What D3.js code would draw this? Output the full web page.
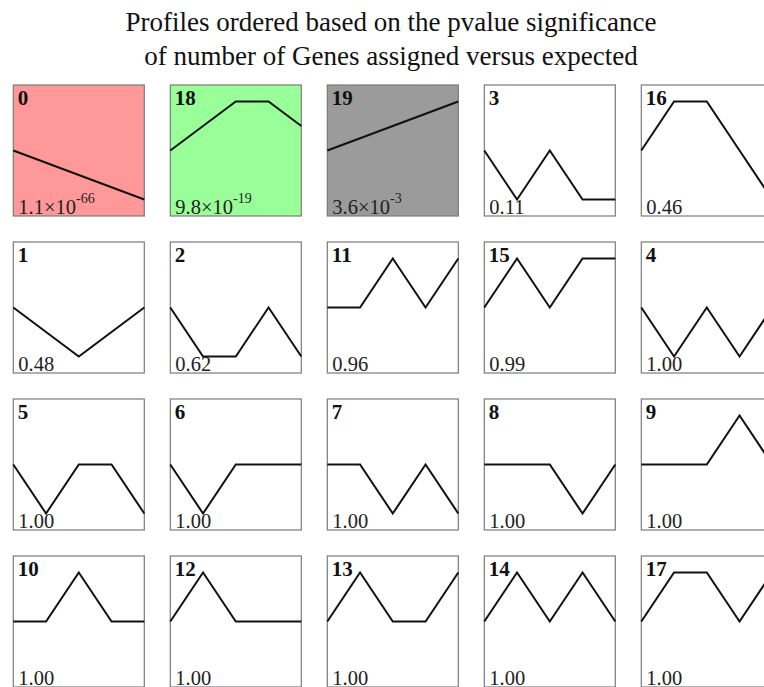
<!DOCTYPE html>
<html>
<head>
<meta charset="utf-8">
<script src="https://cdn.jsdelivr.net/npm/d3@7"></script>
<style>
  body { margin: 0; background: #fff; }
  svg { display: block; font-family: "Liberation Serif", "Times New Roman", serif; }
</style>
</head>
<body>
<svg id="chart"></svg>
<script>
// profile ids, in order of significance
const profileIds = [0, 18, 19, 3, 16, 1, 2, 11, 15, 4, 5, 6, 7, 8, 9, 10, 12, 13, 14, 17];

// model profile for each id (5 time points)
const timePoints = [0, 1, 2, 3, 4];
const profileValues = {
  0: [0, -1, -2, -3, -4],
  18: [0, 1, 2, 2, 1],
  19: [0, 1, 2, 3, 4],
  3: [0, -1, 0, -1, -1],
  16: [0, 1, 1, 0, -1],
  1: [0, -1, -2, -1, 0],
  2: [0, -1, -1, 0, -1],
  11: [0, 0, 1, 0, 1],
  15: [0, 1, 0, 1, 1],
  4: [0, -1, 0, -1, 0],
  5: [0, -1, 0, 0, -1],
  6: [0, -1, 0, 0, 0],
  7: [0, 0, -1, 0, -1],
  8: [0, 0, 0, -1, 0],
  9: [0, 0, 0, 1, 0],
  10: [0, 0, 1, 0, 0],
  12: [0, 1, 0, 0, 0],
  13: [0, 1, 0, 0, 1],
  14: [0, 1, 0, 1, 0],
  17: [0, 1, 1, 0, 1]
};

// p-value of each panel, same order as profileIds
const pValues = [1.1e-66, 9.8e-19, 3.6e-3, 0.11, 0.46, 0.48, 0.62, 0.96, 0.99, 1.00,
                 1.00, 1.00, 1.00, 1.00, 1.00, 1.00, 1.00, 1.00, 1.00, 1.00];

// significant profiles get a coloured background
const profileFill = {0: "#ff9999", 18: "#99ff99", 19: "#9b9b9b"};

const titleLines = [
  "Profiles ordered based on the pvalue significance",
  "of number of Genes assigned versus expected"
];

const width = 764, height = 687;
const cols = 5;
const gridLeft = 13.3, gridTop = 85, step = 157, box = 131;
const amp = 49; // pixels for the max |value| of a profile

const svg = d3.select("#chart")
    .attr("width", width)
    .attr("height", height)
    .attr("viewBox", [0, 0, width, height]);

svg.append("g")
    .attr("text-anchor", "middle")
    .attr("font-size", 27)
    .attr("fill", "#111")
  .selectAll("text")
  .data(titleLines)
  .join("text")
    .attr("x", 391)
    .attr("y", (d, i) => 31 + i * 33.5)
    .text(d => d);

const x = d3.scaleLinear().domain(d3.extent(timePoints)).range([0, box]);

const panel = svg.append("g")
  .selectAll("g")
  .data(profileIds)
  .join("g")
    .attr("transform", (d, i) => `translate(${gridLeft + (i % cols) * step},${gridTop + Math.floor(i / cols) * step})`);

panel.append("rect")
    .attr("width", box)
    .attr("height", box)
    .attr("fill", d => profileFill[d] || "#fff")
    .attr("stroke", "#7a7a7a")
    .attr("stroke-width", 1.2);

panel.append("path")
    .attr("fill", "none")
    .attr("stroke", "#111")
    .attr("stroke-width", 2)
    .attr("stroke-linejoin", "miter")
    .attr("d", d => {
      const vals = profileValues[d];
      const m = d3.max(vals, v => Math.abs(v)) || 1;
      const y = d3.scaleLinear().domain([-m, m]).range([box / 2 + amp, box / 2 - amp]);
      return d3.line().x((v, i) => x(timePoints[i])).y(v => y(v))(vals);
    });

panel.append("text")
    .attr("x", 4.5)
    .attr("y", 20)
    .attr("font-size", 21)
    .attr("font-weight", "bold")
    .attr("fill", "#111")
    .text(d => d);

panel.append("text")
    .attr("x", 5)
    .attr("y", box - 2.5)
    .attr("font-size", 20.5)
    .attr("fill", "#222")
    .each(function(d, i) {
      const p = pValues[i];
      const t = d3.select(this);
      if (p < 0.01) {
        const e = Math.floor(Math.log10(p));
        const mant = (p / Math.pow(10, e)).toFixed(1);
        t.append("tspan").text(`${mant}×10`);
        t.append("tspan").attr("dy", -11).attr("font-size", 14).text(e);
      } else {
        t.text(p.toFixed(2));
      }
    });
</script>
</body>
</html>
